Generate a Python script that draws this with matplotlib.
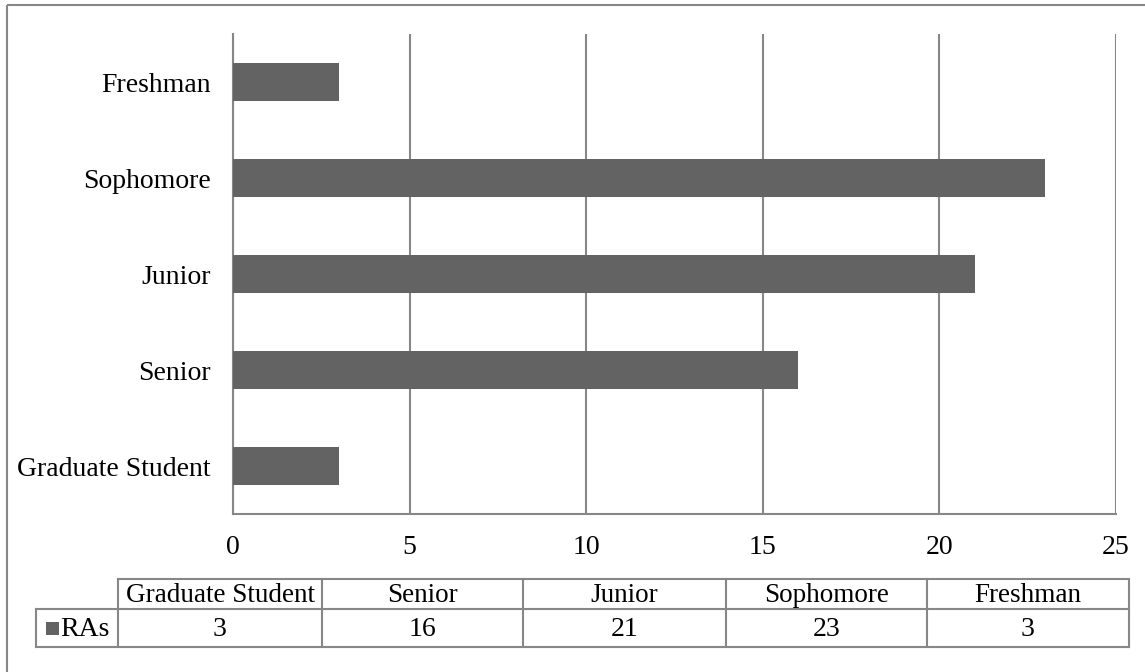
import matplotlib.pyplot as plt
from matplotlib.patches import Rectangle

categories = ['Graduate Student', 'Senior', 'Junior', 'Sophomore', 'Freshman']
ras = [3, 16, 21, 23, 3]
series_name = 'RAs'
x_ticks = [0, 5, 10, 15, 20, 25]

BAR = '#636363'
GRID = '#878787'
FS = 20

plt.rcParams['font.family'] = ['Liberation Serif', 'DejaVu Serif']

W, H = 1145, 672
fig = plt.figure(figsize=(W / 100, H / 100), dpi=100)

# overlay in pixel coordinates for the chart border and the data table
ov = fig.add_axes([0, 0, 1, 1], zorder=0)
ov.set_xlim(0, W)
ov.set_ylim(H, 0)
ov.axis('off')
ov.add_patch(Rectangle((7, 5), W + 20, H + 20, fill=False, ec=GRID, lw=1.5))

# bar chart
ax = fig.add_axes([233 / W, (H - 514) / H, 883 / W, 480 / H], zorder=1)
ax.patch.set_alpha(0)
ypos = range(len(categories))
ax.barh(ypos, ras, height=0.4, color=BAR, zorder=3)
ax.set_xlim(0, 25)
ax.set_ylim(-0.5, len(categories) - 0.5)
ax.set_xticks(x_ticks)
ax.set_yticks(list(ypos))
ax.set_yticklabels(categories)
ax.grid(axis='x', color=GRID, lw=1.5, zorder=1)
ax.tick_params(axis='both', length=0, labelsize=FS)
ax.tick_params(axis='y', pad=16)
ax.tick_params(axis='x', pad=15)
for side in ['top', 'right']:
    ax.spines[side].set_visible(False)
for side in ['left', 'bottom']:
    ax.spines[side].set_color(GRID)
    ax.spines[side].set_linewidth(1.5)

# data table below the chart
col_edges = [118, 322, 523, 726, 927, 1129]
row_top, row_mid, row_bot = 579, 609, 647
label_left = 36
lkw = dict(color=GRID, lw=1.5, solid_capstyle='projecting')

ov.plot([col_edges[0], col_edges[-1]], [row_top, row_top], **lkw)
ov.plot([label_left, col_edges[-1]], [row_mid, row_mid], **lkw)
ov.plot([label_left, col_edges[-1]], [row_bot, row_bot], **lkw)
ov.plot([label_left, label_left], [row_mid, row_bot], **lkw)
for x in col_edges:
    ov.plot([x, x], [row_top, row_bot], **lkw)

for i, (cat, v) in enumerate(zip(categories, ras)):
    cx = (col_edges[i] + col_edges[i + 1]) / 2
    ov.text(cx, (row_top + row_mid) / 2 + 2, cat, ha='center', va='center', fontsize=19.5)
    ov.text(cx, (row_mid + row_bot) / 2 + 2, str(v), ha='center', va='center', fontsize=FS)

ov.add_patch(Rectangle((46, 622), 13, 13, color=BAR, lw=0))
ov.text(60, (row_mid + row_bot) / 2 + 2, series_name, ha='left', va='center', fontsize=FS)

fig.savefig('out.png', dpi=100)
